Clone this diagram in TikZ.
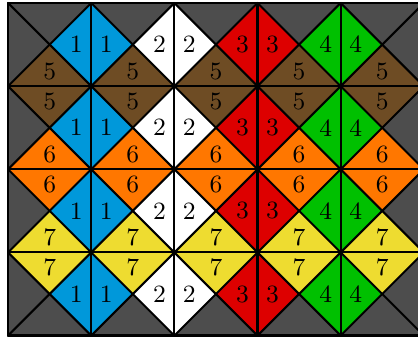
\documentclass[tikz,border=0pt]{standalone}
\usetikzlibrary{calc}
\definecolor{tilegray}{RGB}{77,77,77}
\definecolor{tileblue}{RGB}{0,152,218}
\definecolor{tilered}{RGB}{221,0,0}
\definecolor{tilegreen}{RGB}{0,192,0}
\definecolor{tilebrown}{RGB}{110,76,36}
\definecolor{tileorange}{RGB}{255,119,0}
\definecolor{tileyellow}{RGB}{238,220,48}
\tikzset{
 edgeline/.style={draw=black,line width=0.7pt,line join=round,line cap=round},
 lbl/.style={font=\fontsize{8.5}{10}\selectfont,inner sep=0pt},
}

\begin{document}
\begin{tikzpicture}
\useasboundingbox (-0.097,-0.036) rectangle (4.93,4.036);
\clip (-0.097,-0.036) rectangle (4.93,4.036);
\begin{scope}
\clip (0,0) rectangle (5,4);
% diamonds on the vertical edges
\foreach \col [count=\k from 0] in {tilegray,tileblue,white,tilered,tilegreen,tilegray}
  \foreach \y in {0,...,3}
    \fill[\col] (\k,\y) -- (\k+0.5,\y+0.5) -- (\k,\y+1) -- (\k-0.5,\y+0.5) -- cycle;
% diamonds on the horizontal edges
\foreach \col [count=\k from 0] in {tilegray,tileyellow,tileorange,tilebrown,tilegray}
  \foreach \x in {0,...,4}
    \fill[\col] (\x,\k) -- (\x+0.5,\k+0.5) -- (\x+1,\k) -- (\x+0.5,\k-0.5) -- cycle;
\end{scope}
% grid and diagonals
\draw[edgeline] (0,0) grid (5,4);
\foreach \x in {0,...,4}
  \foreach \y in {0,...,3} {
    \draw[edgeline] (\x,\y) -- (\x+1,\y+1);
    \draw[edgeline] (\x+1,\y) -- (\x,\y+1);
  }
\draw[edgeline,line width=0.8pt] (0,0) rectangle (5,4);
% labels
\foreach \k in {1,...,4}
  \foreach \y in {0,...,3} {
    \node[lbl] (v\k-\y-l) at (\k-0.18,\y+0.5) {\k};
    \node[lbl] (v\k-\y-r) at (\k+0.18,\y+0.5) {\k};
  }
\foreach \n [count=\k] in {7,6,5}
  \foreach \x in {0,...,4} {
    \node[lbl] (h\k-\x-t) at (\x+0.5,\k+0.18) {\n};
    \node[lbl] (h\k-\x-b) at (\x+0.5,\k-0.18) {\n};
  }
\end{tikzpicture}
\end{document}
